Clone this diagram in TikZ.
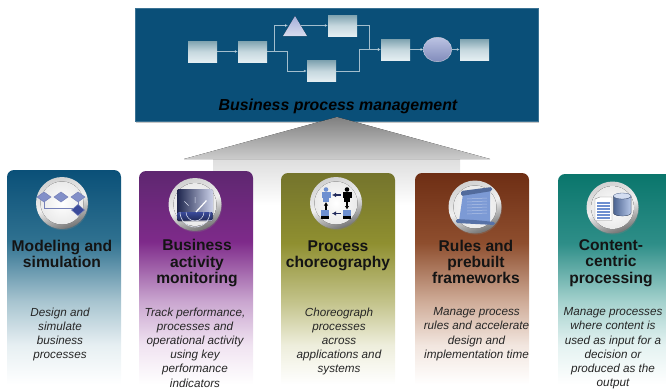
\documentclass[tikz,border=0pt]{standalone}
\usepackage{fontspec}
\setmainfont{Liberation Sans}
\usetikzlibrary{shadows,calc,arrows.meta}
\definecolor{hdr}{HTML}{0A4F78}
\definecolor{boxt}{HTML}{7FA3B0}
\definecolor{boxb}{HTML}{E4EEF2}
\definecolor{blu}{HTML}{8F9BD0}
\definecolor{dblu}{HTML}{3A4A9A}
\definecolor{mblu}{HTML}{6D8FD0}
% stops: 25bp = bottom of the card, 75bp = top
\newcommand{\cardshade}[5]{\pgfdeclareverticalshading{#1}{100bp}{color(0bp)=(white); color(26.5bp)=(white); color(35.5bp)=(#5); color(45.5bp)=(#4); color(59bp)=(#3); color(75bp)=(#2); color(100bp)=(#2)}}
\definecolor{ca}{HTML}{0A5078}\definecolor{cb}{HTML}{2F7190}\definecolor{cc}{HTML}{A6C3CF}\definecolor{cd}{HTML}{E6EFF2}
\definecolor{pa}{HTML}{5E2770}\definecolor{pb}{HTML}{7E2A8A}\definecolor{pc}{HTML}{C9A5CF}\definecolor{pd}{HTML}{F0E3F1}
\definecolor{oa}{HTML}{74742C}\definecolor{ob}{HTML}{8F8F30}\definecolor{oc}{HTML}{C3C38A}\definecolor{od}{HTML}{EEEEDC}
\definecolor{ra}{HTML}{6E2E14}\definecolor{rb}{HTML}{8E4E2E}\definecolor{rc}{HTML}{CFAC98}\definecolor{rd}{HTML}{F2E6DF}
\definecolor{ta}{HTML}{0A766C}\definecolor{tb}{HTML}{2E8E88}\definecolor{tc}{HTML}{A5D2CE}\definecolor{td}{HTML}{E4F2F1}
\cardshade{cardA}{ca}{cb}{cc}{cd}
\cardshade{cardB}{pa}{pb}{pc}{pd}
\cardshade{cardC}{oa}{ob}{oc}{od}
\cardshade{cardD}{ra}{rb}{rc}{rd}
\cardshade{cardE}{ta}{tb}{tc}{td}
\pgfdeclareverticalshading{shaftfade}{100bp}{color(0bp)=(white); color(25bp)=(white); color(75bp)=(black!13); color(100bp)=(black!13)}
\tikzset{
 flowbox/.style={rectangle,minimum width=29pt,minimum height=21pt,inner sep=0pt,top color=boxt,bottom color=boxb,middle color=boxb!70!boxt},
 flow/.style={draw=boxb!70!hdr,line width=0.45pt,-{Latex[length=3pt,width=2.6pt,fill=white]}},
 cardtitle/.style={font=\bfseries\fontsize{15.6}{16.3}\selectfont,align=center,text=black!92,inner sep=0pt},
 cardbody/.style={font=\itshape\fontsize{11.7}{14.2}\selectfont,align=center,text=black!85,inner sep=0pt,anchor=north},
 medal/.style={circle,minimum size=#1,inner sep=0pt,shading=axis,top color=black!18,bottom color=black!55,middle color=black!6,shading angle=20,
   drop shadow={opacity=.3,shadow xshift=.6pt,shadow yshift=-1.2pt},
   path picture={\fill[inner color=white,outer color=black!10] (path picture bounding box.center) circle (21.5pt);}},
 dia/.style={draw=dblu!70,fill=blu!85!dblu,line width=.5pt},
 link/.style={draw=dblu!70,line width=.7pt},
}
\begin{document}
\begin{tikzpicture}[x=1pt,y=-1pt]
\useasboundingbox (0,0) rectangle (666,391);
% arrow shaft
\shade[shading=shaftfade] (213,159) rectangle (460,205);
% header
\node[rectangle,fill=hdr,minimum width=403pt,minimum height=113pt,inner sep=0pt,draw=hdr!80!white,line width=.5pt,drop shadow={opacity=.45,shadow xshift=.6pt,shadow yshift=-1.6pt}] (header) at (336.5,65) {};
% arrow head
\fill[top color=black!50,bottom color=black!20] (337,117) -- (490,159) -- (184,159) -- cycle;
\node[font=\bfseries\itshape\fontsize{15.9}{17}\selectfont,text=black,inner sep=0pt] (hdrtext) at (338,106) {Business process management};
% flow
\node[flowbox] (f1) at (202.5,51.5) {};
\node[flowbox] (f2) at (252.5,51.5) {};
\coordinate (triw) at (288,25.5);
\coordinate (trie) at (301,25.5);
\fill[top color=blu!80!white,bottom color=blu!35!white] (295,16) -- (307,36) -- (283,36) -- cycle;
\node[flowbox] (f3) at (342.5,25.5) {};
\node[flowbox] (f4) at (321.5,71) {};
\node[flowbox] (f5) at (395.5,49.5) {};
\coordinate (elc) at (437.5,49.5);
\coordinate (elw) at (423.5,49.5);
\coordinate (ele) at (451.5,49.5);
\fill[top color=blu!60!white,bottom color=blu!90!black,draw=boxb!70!blu,line width=.4pt] (elc) ellipse (14.3pt and 12.2pt);
\node[flowbox] (f6) at (474.5,49.5) {};
\draw[flow] (f1.east) -- (f2.west);
\draw[flow] (f2.east) -- (274,51.5) |- (triw);
\draw[flow] (f2.east) -- (287,51.5) |- (f4.west);
\draw[flow] (trie) -- (f3.west);
\draw[flow] (f3.east) -- (369.5,25.5) |- (f5.west);
\draw[flow] (f4.east) -- (359,71) |- (f5.west);
\draw[flow] (f5.east) -- (elw);
\draw[flow] (ele) -- (f6.west);
% cards
\shade[shading=cardA,rounded corners=7pt] (7,391) -- (7,170) -- (121,170) -- (121,391) [sharp corners] -- cycle;
\shade[shading=cardB,rounded corners=7pt] (139,391) -- (139,171) -- (253,171) -- (253,391) [sharp corners] -- cycle;
\shade[shading=cardC,rounded corners=7pt] (281,391) -- (281,173) -- (395,173) -- (395,391) [sharp corners] -- cycle;
\shade[shading=cardD,rounded corners=7pt] (415,391) -- (415,173) -- (529,173) -- (529,391) [sharp corners] -- cycle;
\shade[shading=cardE,rounded corners=7pt] (558,391) -- (558,174) -- (680,174) -- (680,391) [sharp corners] -- cycle;
% medals
\node[medal=52pt] (m1) at (62,203) {};
\node[medal=53pt] (m2) at (195,204.5) {};
\node[medal=52pt] (m3) at (336,203) {};
\node[medal=53pt] (m4) at (475,207) {};
\node[medal=52pt] (m5) at (612.5,207.5) {};
% icon 1
\draw[link] (44.5,200) -- (44.5,208) -- (73,208);
\foreach \c in {44,61,78}{\draw[dia] (\c,192) ++(-7,5) -- ++(7,-5) -- ++(7,5) -- ++(-7,5) -- cycle;}
\draw[link] (78,201) -- (78,205);
\draw[dia,fill=dblu] (78,210) ++(-6.5,0) -- ++(6.5,-5.5) -- ++(6.5,5.5) -- ++(-6.5,5.5) -- cycle;
% icon 2
\fill[left color=dblu!50!black,right color=white!55!blu,rounded corners=1.5pt] (177,189) rectangle (213,221);
\fill[top color=dblu,bottom color=dblu!60!black,rounded corners=1pt] (177.5,212) rectangle (212.5,220);
\draw[white!70!blu,line width=.6pt] (180,212) arc (180:360:15 and -15);
\draw[white!70!blu,line width=.5pt] (186,212) arc (180:360:9 and -9);
\draw[white!70!blu,line width=.5pt] (195,203) -- (195,197) (188.6,205.6) -- (184.4,201.4);
\draw[white,line width=1.2pt] (196,212) -- (206.5,200.5);
% icon 3
\foreach \x/\col in {326/mblu,347/black}{
 \fill[\col] (\x,189.5) circle (2.3pt);
 \fill[\col] (\x-4.5,192) rectangle (\x+4.5,198);
 \fill[\col] (\x-2.8,198) rectangle (\x+2.8,202);
}
\fill[mblu] (321,209.5) rectangle (329,216);\fill[black] (321,216) rectangle (329,218.5);
\fill[mblu] (342.5,209.5) rectangle (351,216);\fill[black] (342.5,216) rectangle (351,218.5);
\draw[dblu!60!black,line width=1.6pt,{Latex[length=4pt,width=4.5pt]}-] (332,195) -- (341,195);
\draw[dblu!60!black,line width=1.6pt,{Latex[length=4pt,width=4.5pt]}-] (332,213.5) -- (341,213.5);
\draw[black,line width=1.5pt,-{Latex[length=3.5pt,width=4.5pt]}] (347,202) -- (347,209.5);
\draw[black,line width=1.5pt,{Latex[length=3.5pt,width=4.5pt]}-] (326,202) -- (326,209.5);
% icon 4
\fill[mblu!90!white] (463,194) -- (490,190) -- (490,222) -- (459,221) -- cycle;
\fill[mblu!75!black,rounded corners=1.5pt] (461,191) -- (492,187) -- (492,191) -- (461,196) -- cycle;
\fill[mblu!80!black,rounded corners=1.5pt] (456,219) -- (474,220) -- (495,222) -- (495,225) -- (456,223) -- cycle;
\foreach \yy in {199,202,205,208,211,214}{\draw[white!45!mblu,line width=.5pt] (467,\yy) -- (487,\yy-1);}
% icon 5
\fill[white,draw=black!45,line width=.4pt] (595,199) -- (600,197) -- (612,197) -- (612,220.5) -- (595,220.5) -- cycle;
\foreach \yy in {203,206,209,212,215,218}{\draw[mblu,line width=1.4pt] (597,\yy) -- (610,\yy);}
\fill[left color=mblu!70!black,right color=mblu!50!white,draw=mblu!50!black,line width=.2pt] (613.5,196) -- (613.5,213) arc (180:360:8.75 and -3) -- (631,196) arc (360:180:8.75 and -3) -- cycle;
\fill[white!70!mblu,draw=mblu!60!black,line width=.3pt] (622.25,196) ellipse (8.75pt and 3pt);
% card titles
\node[cardtitle] (t1) at (62,254) {Modeling and\\simulation};
\node[cardtitle] (t2) at (197,263.2) {Business\\activity\\monitoring};
\node[cardtitle] (t3) at (338,255.5) {Process\\choreography};
\node[cardtitle] (t4) at (476,262) {Rules and\\prebuilt\\frameworks};
\node[cardtitle] (t5) at (611,263) {Content-\\centric\\processing};
% bodies
\node[cardbody] (b1) at (60,307.5) {Design and\\simulate\\business\\processes};
\node[cardbody] (b2) at (195,307.5) {Track performance,\\processes and\\operational activity\\using key\\performance\\indicators};
\node[cardbody] (b3) at (339,307.5) {Choreograph\\processes\\across\\applications and\\systems};
\node[cardbody] (b4) at (476.5,307.5) {Manage process\\rules and accelerate\\design and\\implementation time};
\node[cardbody] (b5) at (613,307.5) {Manage processes\\where content is\\used as input for a\\decision or\\produced as the\\output};
\end{tikzpicture}
\end{document}
